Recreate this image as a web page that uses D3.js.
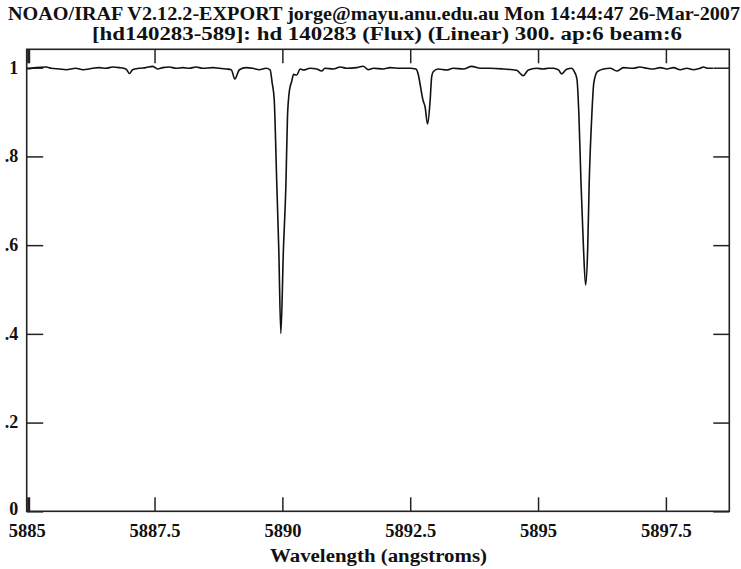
<!DOCTYPE html>
<html>
<head>
<meta charset="utf-8">
<script src="https://cdn.jsdelivr.net/npm/d3@7"></script>
<style>
  html, body { margin: 0; padding: 0; background: #fff; }
  svg { display: block; }
  text { font-family: "Liberation Serif", "DejaVu Serif", serif; font-weight: bold; fill: #111; }
</style>
</head>
<body>
<svg id="chart" width="741" height="569"></svg>
<script>
// ---- data ----
const titleLine1 = "NOAO/IRAF V2.12.2-EXPORT jorge@mayu.anu.edu.au Mon 14:44:47 26-Mar-2007";
const titleLine2 = "[hd140283-589]: hd 140283 (Flux) (Linear) 300. ap:6 beam:6";
const xAxisTitle = "Wavelength (angstroms)";

const xTicks = [5885, 5887.5, 5890, 5892.5, 5895, 5897.5];
const xTickLabels = ["5885", "5887.5", "5890", "5892.5", "5895", "5897.5"];
const yTicks = [0, 0.2, 0.4, 0.6, 0.8, 1];
const yTickLabels = ["0", ".2", ".4", ".6", ".8", "1"];

const wavelength = [
  5885.00, 5885.02, 5885.18, 5885.38, 5885.48, 5885.64, 5885.77, 5885.96, 5886.10, 5886.29,
  5886.42, 5886.55, 5886.68, 5886.81, 5886.94, 5887.01, 5887.07, 5887.20, 5887.33, 5887.46,
  5887.56, 5887.66, 5887.79, 5887.92, 5888.05, 5888.18, 5888.31, 5888.44, 5888.64, 5888.77,
  5888.90, 5889.00, 5889.07, 5889.16, 5889.29, 5889.42, 5889.55, 5889.68, 5889.76, 5889.80,
  5889.84, 5889.89, 5889.93, 5889.97, 5890.02, 5890.07, 5890.10, 5890.14, 5890.18, 5890.22,
  5890.28, 5890.35, 5890.41, 5890.54, 5890.67, 5890.77, 5890.83, 5891.00, 5891.13, 5891.26,
  5891.45, 5891.58, 5891.68, 5891.78, 5891.97, 5892.11, 5892.30, 5892.50, 5892.61, 5892.66,
  5892.69, 5892.75, 5892.79, 5892.84, 5892.89, 5892.92, 5892.95, 5893.05, 5893.21, 5893.34,
  5893.54, 5893.70, 5893.87, 5894.06, 5894.32, 5894.58, 5894.71, 5894.81, 5894.97, 5895.10,
  5895.20, 5895.30, 5895.40, 5895.46, 5895.56, 5895.66, 5895.69, 5895.76, 5895.80, 5895.84,
  5895.89, 5895.93, 5895.97, 5896.00, 5896.05, 5896.09, 5896.16, 5896.28, 5896.41, 5896.54,
  5896.67, 5896.86, 5896.99, 5897.13, 5897.26, 5897.39, 5897.52, 5897.65, 5897.78, 5897.91,
  5898.04, 5898.17, 5898.23, 5898.33, 5898.42
];
const flux = [
  0.9980, 0.9975, 1.0005, 1.0016, 0.9987, 0.9971, 0.9955, 0.9987, 0.9955, 0.9987,
  1.0002, 0.9987, 1.0016, 1.0002, 0.9971, 0.9870, 0.9955, 0.9987, 1.0002, 1.0030,
  0.9971, 1.0002, 1.0016, 0.9987, 1.0002, 0.9987, 1.0016, 0.9987, 1.0002, 0.9987,
  0.9971, 0.9955, 0.9746, 0.9955, 1.0002, 0.9987, 0.9955, 0.9987, 0.9950, 0.9660,
  0.9290, 0.7400, 0.5890, 0.4010, 0.5890, 0.7400, 0.8900, 0.9500, 0.9680, 0.9850,
  0.9835, 0.9970, 0.9949, 0.9987, 0.9971, 0.9925, 0.9987, 0.9971, 1.0017, 0.9987,
  1.0002, 1.0032, 0.9957, 0.9987, 0.9971, 1.0002, 0.9987, 0.9987, 0.9971, 0.9835,
  0.9650, 0.9270, 0.9120, 0.8730, 0.9270, 0.9800, 0.9910, 0.9971, 0.9949, 0.9987,
  0.9971, 1.0030, 0.9987, 0.9987, 0.9971, 0.9942, 0.9820, 0.9949, 0.9987, 0.9971,
  0.9987, 0.9987, 0.9950, 0.9860, 0.9965, 0.9987, 0.9950, 0.9747, 0.8896, 0.7394,
  0.5890, 0.5100, 0.5890, 0.7394, 0.8896, 0.9650, 0.9910, 0.9971, 0.9987, 0.9926,
  1.0002, 0.9987, 1.0016, 0.9987, 0.9971, 1.0002, 0.9971, 1.0002, 0.9955, 0.9987,
  0.9955, 0.9987, 1.0016, 0.9987, 0.9987
];

// ---- layout ----
const svg = d3.select("#chart");
const plotLeft = 26.7, plotRight = 729.3, plotTop = 49.3, plotBottom = 511.3;

const x = d3.scaleLinear().domain([5885, 5898.74]).range([plotLeft, plotRight]);
const y = d3.scaleLinear().domain([0, 1.0415]).range([plotBottom, plotTop]);

const points = wavelength.map((w, i) => [w, flux[i]]);

// titles
svg.append("text").attr("x", 8).attr("y", 19.5)
  .attr("textLength", 732).attr("lengthAdjust", "spacingAndGlyphs")
  .style("font-size", "18.5px").text(titleLine1);
svg.append("text").attr("x", 92).attr("y", 39.5)
  .attr("textLength", 590).attr("lengthAdjust", "spacingAndGlyphs")
  .style("font-size", "18.5px").text(titleLine2);

// axes
const axisColor = "#222";
const gB = svg.append("g").attr("transform", `translate(0,${plotBottom})`)
  .call(d3.axisBottom(x).tickValues(xTicks).tickSizeInner(-14).tickSizeOuter(0)
    .tickFormat((d, i) => xTickLabels[i]).tickPadding(0));
const gT = svg.append("g").attr("transform", `translate(0,${plotTop})`)
  .call(d3.axisTop(x).tickValues(xTicks).tickSizeInner(-14).tickSizeOuter(0).tickFormat(""));
const gL = svg.append("g").attr("transform", `translate(${plotLeft},0)`)
  .call(d3.axisLeft(y).tickValues(yTicks).tickSizeInner(-16.5).tickSizeOuter(0)
    .tickFormat((d, i) => yTickLabels[i]).tickPadding(0));
const gR = svg.append("g").attr("transform", `translate(${plotRight},0)`)
  .call(d3.axisRight(y).tickValues(yTicks).tickSizeInner(-16).tickSizeOuter(0).tickFormat(""));

[gB, gT, gL, gR].forEach(g => {
  g.select(".domain").remove();
  g.selectAll(".tick line").attr("stroke", axisColor).attr("stroke-width", 1.5);
});
gB.selectAll(".tick text")
  .attr("y", 25.5).attr("dy", 0)
  .style("font-size", "18.5px").style("font-family", "'Liberation Serif', serif")
  .attr("fill", "#111");
gL.selectAll(".tick text")
  .attr("x", -8.5).attr("dy", d => d === 0 ? "0.2em" : "0.3em")
  .style("font-size", "18px").style("font-family", "'Liberation Serif', serif")
  .attr("fill", "#111");

// first tick slightly thicker like reference
gB.selectAll(".tick").filter(d => d === 5885).select("line")
  .attr("stroke-width", 3).attr("transform", "translate(1.5,0)");
gT.selectAll(".tick").filter(d => d === 5885).select("line")
  .attr("stroke-width", 3).attr("transform", "translate(1.5,0)");

// frame
svg.append("rect")
  .attr("x", plotLeft).attr("y", plotTop)
  .attr("width", plotRight - plotLeft).attr("height", plotBottom - plotTop)
  .attr("fill", "none").attr("stroke", axisColor).attr("stroke-width", 1.6);

// spectrum
const line = d3.line().x(d => x(d[0])).y(d => y(d[1])).curve(d3.curveMonotoneX);
svg.append("path").datum(points)
  .attr("d", line).attr("fill", "none")
  .attr("stroke", "#111").attr("stroke-width", 1.6).attr("stroke-linejoin", "round");

// x axis title
svg.append("text").attr("x", 270).attr("y", 561.5)
  .attr("textLength", 217).attr("lengthAdjust", "spacingAndGlyphs")
  .style("font-size", "18.5px").text(xAxisTitle);
</script>
</body>
</html>
